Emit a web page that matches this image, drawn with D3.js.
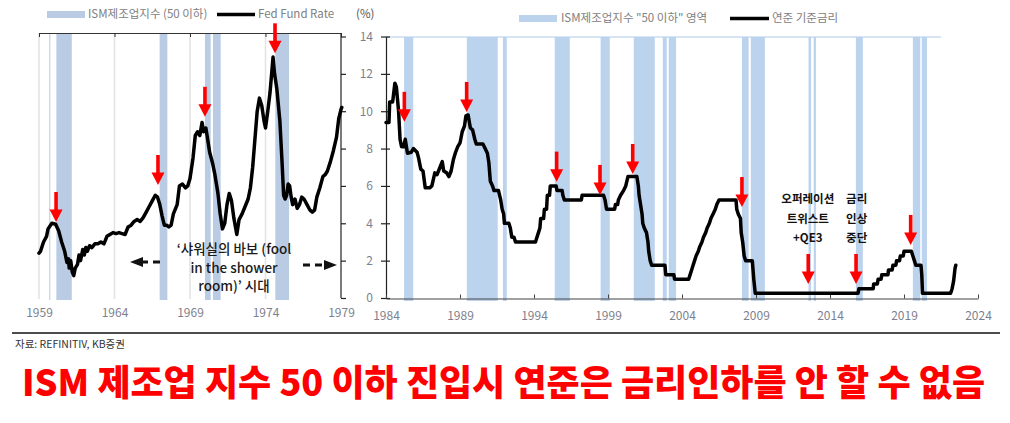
<!DOCTYPE html>
<html><head><meta charset="utf-8">
<script src="https://cdn.jsdelivr.net/npm/d3@7"></script>
<style>body{margin:0;background:#fff}svg{display:block}</style>
</head><body>
<svg id="c" width="1010" height="423"></svg>
<script>
// ---------------- DATA ----------------
const leftYearTicks = [1959, 1964, 1969, 1974, 1979];
const rightYearTicks = [1984, 1989, 1994, 1999, 2004, 2009, 2014, 2019, 2024];
const rateTicks = [0, 2, 4, 6, 8, 10, 12, 14];

// ISM below 50 periods (start, end) in decimal years
const leftShading = [[1959.68,1959.75],[1960.15,1961.17],[1966.99,1967.5],[1969.99,1970.37],[1970.52,1971.03],[1974.65,1975.56]];
const rightShading = [[1985.22,1985.84],[1989.46,1991.55],[1991.9,1992.16],[1995.4,1996.42],[1998.5,1999.12],[2000.74,2002.16],[2002.7,2002.97],[2003.1,2003.6],[2008.05,2008.5],[2008.65,2009.6],[2012.55,2012.72],[2012.9,2013.05],[2015.75,2016.22],[2019.6,2020.1],[2020.2,2020.55]];

// Fed funds rate 1959-1979 [year, %]
const leftRate = [[1959.0,2.4],[1959.1,2.5],[1959.3,3.0],[1959.5,3.3],[1959.6,3.7],[1959.85,4.0],[1960.1,3.95],[1960.3,3.6],[1960.5,3.0],[1960.7,2.5],[1960.85,1.9],[1960.95,2.1],[1961.0,1.6],[1961.1,2.0],[1961.2,1.4],[1961.3,1.2],[1961.4,1.6],[1961.55,1.8],[1961.65,2.3],[1961.75,2.0],[1961.9,2.6],[1962.0,2.3],[1962.1,2.7],[1962.2,2.5],[1962.35,2.8],[1962.5,2.7],[1962.7,2.9],[1962.9,2.9],[1963.1,3.0],[1963.3,2.9],[1963.5,3.3],[1963.7,3.4],[1963.9,3.5],[1964.1,3.45],[1964.3,3.5],[1964.5,3.45],[1964.7,3.4],[1964.9,3.8],[1965.1,3.9],[1965.3,4.1],[1965.5,4.2],[1965.7,4.1],[1965.9,4.3],[1966.1,4.6],[1966.3,4.9],[1966.5,5.2],[1966.7,5.5],[1966.85,5.4],[1967.0,5.0],[1967.15,4.4],[1967.3,3.9],[1967.45,3.9],[1967.6,3.8],[1967.75,3.9],[1967.9,4.5],[1968.0,4.7],[1968.15,5.0],[1968.3,6.0],[1968.5,6.1],[1968.7,5.9],[1968.85,6.0],[1969.0,6.4],[1969.2,7.5],[1969.35,8.7],[1969.5,8.9],[1969.65,8.7],[1969.8,9.4],[1969.9,8.9],[1970.05,9.1],[1970.15,8.6],[1970.3,7.8],[1970.5,7.2],[1970.65,6.6],[1970.85,5.6],[1971.0,4.5],[1971.15,3.7],[1971.3,4.0],[1971.45,5.0],[1971.6,5.6],[1971.75,5.2],[1971.9,4.3],[1972.1,3.4],[1972.25,4.2],[1972.45,4.5],[1972.65,4.9],[1972.85,5.3],[1973.0,5.9],[1973.15,7.0],[1973.3,8.5],[1973.45,10.0],[1973.6,10.7],[1973.75,10.3],[1973.9,9.5],[1974.0,9.1],[1974.15,10.0],[1974.3,11.0],[1974.5,12.9],[1974.6,12.0],[1974.75,11.2],[1974.95,9.5],[1975.1,7.2],[1975.2,5.5],[1975.3,5.3],[1975.4,5.5],[1975.5,6.1],[1975.6,6.0],[1975.7,5.4],[1975.8,5.0],[1975.95,5.3],[1976.1,4.8],[1976.25,5.0],[1976.4,5.4],[1976.55,5.3],[1976.75,5.0],[1976.95,4.7],[1977.1,4.6],[1977.25,4.7],[1977.4,5.4],[1977.6,5.9],[1977.8,6.5],[1977.95,6.6],[1978.1,6.8],[1978.3,7.3],[1978.5,7.9],[1978.7,8.6],[1978.85,9.6],[1979.0,10.1],[1979.05,10.2]];

// Fed funds target rate 1984-2022 [year, %]
const rightRate = [[1984.0,9.4],[1984.2,9.4],[1984.25,10.5],[1984.45,10.5],[1984.6,11.5],[1984.7,11.3],[1984.85,10.0],[1984.95,8.5],[1985.05,8.1],[1985.2,8.1],[1985.3,8.5],[1985.45,7.75],[1985.7,7.8],[1985.85,8.0],[1986.1,7.8],[1986.2,7.5],[1986.35,6.9],[1986.5,6.8],[1986.65,5.9],[1986.95,5.9],[1987.1,6.0],[1987.3,6.7],[1987.45,6.6],[1987.65,7.0],[1987.8,7.3],[1987.9,6.8],[1988.1,6.7],[1988.25,6.5],[1988.4,6.8],[1988.55,7.4],[1988.7,7.8],[1988.85,8.1],[1989.0,8.3],[1989.15,8.9],[1989.3,9.2],[1989.4,9.75],[1989.55,9.8],[1989.7,9.1],[1989.85,9.0],[1990.0,8.5],[1990.1,8.25],[1990.55,8.25],[1990.7,8.0],[1990.85,7.75],[1990.95,7.25],[1991.05,6.25],[1991.2,6.0],[1991.3,5.75],[1991.6,5.75],[1991.75,5.25],[1991.85,4.75],[1991.95,4.5],[1992.0,4.0],[1992.3,4.0],[1992.4,3.75],[1992.5,3.25],[1992.65,3.25],[1992.75,3.0],[1994.1,3.0],[1994.2,3.25],[1994.3,3.5],[1994.4,3.75],[1994.45,4.25],[1994.65,4.25],[1994.7,4.75],[1994.85,4.75],[1994.9,5.5],[1995.05,5.5],[1995.1,6.0],[1995.5,6.0],[1995.55,5.75],[1995.9,5.75],[1995.95,5.5],[1996.05,5.25],[1997.2,5.25],[1997.25,5.5],[1998.7,5.5],[1998.8,5.25],[1998.85,5.0],[1998.9,4.75],[1999.45,4.75],[1999.5,5.0],[1999.65,5.0],[1999.7,5.25],[1999.85,5.5],[2000.05,5.75],[2000.2,6.0],[2000.35,6.5],[2000.95,6.5],[2001.05,6.0],[2001.1,5.5],[2001.2,5.0],[2001.3,4.5],[2001.35,4.0],[2001.45,3.75],[2001.6,3.5],[2001.7,3.0],[2001.75,2.5],[2001.85,2.0],[2001.95,1.75],[2002.85,1.75],[2002.9,1.25],[2003.45,1.25],[2003.5,1.0],[2004.45,1.0],[2004.55,1.25],[2004.65,1.5],[2004.75,1.75],[2004.85,2.0],[2004.95,2.25],[2005.1,2.5],[2005.2,2.75],[2005.35,3.0],[2005.45,3.25],[2005.6,3.5],[2005.7,3.75],[2005.85,4.0],[2005.95,4.25],[2006.1,4.5],[2006.25,4.75],[2006.35,5.0],[2006.5,5.25],[2007.65,5.25],[2007.7,4.75],[2007.8,4.5],[2007.95,4.25],[2008.0,3.5],[2008.1,3.0],[2008.2,2.25],[2008.3,2.0],[2008.75,2.0],[2008.8,1.5],[2008.85,1.0],[2008.95,0.25],[2015.9,0.25],[2015.95,0.5],[2016.92,0.5],[2016.95,0.75],[2017.2,0.75],[2017.25,1.0],[2017.45,1.0],[2017.5,1.25],[2017.92,1.25],[2017.95,1.5],[2018.2,1.5],[2018.25,1.75],[2018.45,1.75],[2018.5,2.0],[2018.7,2.0],[2018.75,2.25],[2018.95,2.25],[2019.0,2.5],[2019.5,2.5],[2019.6,2.25],[2019.7,2.0],[2019.8,1.75],[2020.15,1.75],[2020.2,1.25],[2020.25,0.25],[2022.15,0.25],[2022.25,0.5],[2022.35,0.9],[2022.45,1.6],[2022.5,1.75]];

// red arrows: [year, tip value]
const leftArrows = [[1960.13,4.07],[1966.88,6.05],[1969.99,9.7],[1974.63,13.1]];
const rightArrows = [[1985.24,9.43],[1989.45,9.96],[1995.53,6.23],[1998.46,5.52],[2000.67,6.64],[2008.05,4.87],[2012.53,0.75],[2015.76,0.75],[2019.45,2.84]];

// texts
const leftLegend = ["ISM제조업지수 (50 이하)", "Fed Fund Rate"];
const rightLegend = ["ISM제조업지수 \"50 이하\" 영역", "연준 기준금리"];
const showerNote = ["‘샤워실의 바보 (fool", "in the shower", "room)’ 시대"];
const twistNote = ["오퍼레이션", "트위스트", "+QE3"];
const pauseNote = ["금리", "인상", "중단"];
const sourceText = "자료: REFINITIV, KB증권";
const titleText = "ISM 제조업 지수 50 이하 진입시 연준은 금리인하를 안 할 수 없음";

// ---------------- DRAW ----------------
const FONT = "'Noto Sans CJK KR','Noto Sans',sans-serif";
const LABEL = "#7e7f8e";
const svg = d3.select("#c").style("font-family", FONT);

const y = d3.scaleLinear().domain([0, 14]).range([298, 36.5]);
const xL = d3.scaleLinear().domain([1959, 1979]).range([39, 341]);
const xR = d3.scaleLinear().domain([1984, 2024]).range([386, 978]);

// ----- left chart -----
const gL = svg.append("g");
gL.selectAll("line.grid").data(leftYearTicks.slice(0, 4)).join("line")
  .attr("x1", d => xL(d)).attr("x2", d => xL(d)).attr("y1", 33).attr("y2", 299)
  .attr("stroke", "#e2e2e2").attr("stroke-width", 1.5);
gL.selectAll("rect.sh").data(leftShading).join("rect")
  .attr("x", d => xL(d[0])).attr("width", d => Math.max(1, xL(d[1]) - xL(d[0])))
  .attr("y", 34).attr("height", 266).attr("fill", "#b9cce4");
const topAx = gL.append("g").attr("transform", "translate(0,33)")
  .call(d3.axisBottom(xL).tickValues(leftYearTicks).tickSizeInner(4).tickSizeOuter(0).tickFormat(""));
topAx.select(".domain").attr("stroke", "#333");
topAx.selectAll(".tick line").attr("stroke", "#333");
const botL = gL.append("g").attr("transform", "translate(0,299)")
  .call(d3.axisBottom(xL).tickValues(leftYearTicks).tickSize(0).tickPadding(9).tickFormat(d3.format("d")));
botL.select(".domain").remove();
botL.selectAll("text").attr("fill", LABEL).attr("font-size", 12).attr("font-family", FONT);
const rAx = gL.append("g").attr("transform", "translate(341,0)")
  .call(d3.axisRight(y).tickValues(rateTicks).tickSizeInner(5).tickSizeOuter(0).tickFormat(""));
rAx.select(".domain").attr("stroke", "#222").attr("stroke-width", 1.2).attr("d", "M0,33V298");
rAx.selectAll(".tick line").attr("stroke", "#222").attr("stroke-width", 1.2);

gL.append("path").datum(leftRate)
  .attr("d", d3.line().x(d => xL(d[0])).y(d => y(d[1])))
  .attr("fill", "none").attr("stroke", "#000").attr("stroke-width", 3.5)
  .attr("stroke-linejoin", "round").attr("stroke-linecap", "round");

// ----- right chart -----
const gR = svg.append("g");
gR.append("line").attr("x1", xR(1984)).attr("x2", xR(2021.5)).attr("y1", 37).attr("y2", 37)
  .attr("stroke", "#c9dbf0").attr("stroke-width", 1.5);
gR.selectAll("rect.sh").data(rightShading).join("rect")
  .attr("x", d => xR(d[0])).attr("width", d => xR(d[1]) - xR(d[0]))
  .attr("y", 37).attr("height", 264).attr("fill", "#bcd3ee");

const yAx = gR.append("g").attr("transform", "translate(386,0)")
  .call(d3.axisLeft(y).tickValues(rateTicks).tickSizeInner(5).tickSizeOuter(0).tickPadding(8));
yAx.select(".domain").attr("stroke", "#222").attr("stroke-width", 1.2);
yAx.selectAll(".tick line").attr("stroke", "#222").attr("stroke-width", 1.2).attr("x2", 4).attr("x1", -5);
yAx.selectAll("text").attr("fill", LABEL).attr("font-size", 12).attr("font-family", FONT);

const xAx = gR.append("g").attr("transform", "translate(0,298.5)")
  .call(d3.axisBottom(xR).tickValues(rightYearTicks).tickSizeInner(-4).tickSizeOuter(0).tickPadding(9).tickFormat(d3.format("d")));
xAx.select(".domain").attr("stroke", "#444").attr("stroke-width", 1.2);
xAx.selectAll(".tick line").attr("stroke", "#444");
xAx.selectAll("text").attr("fill", LABEL).attr("font-size", 12).attr("font-family", FONT).attr("dy", "1em");

gR.append("path").datum(rightRate)
  .attr("d", d3.line().x(d => xR(d[0])).y(d => y(d[1])))
  .attr("fill", "none").attr("stroke", "#000").attr("stroke-width", 3.5)
  .attr("stroke-linejoin", "round").attr("stroke-linecap", "round");

// ----- arrows -----
function arrows(g, data, xs) {
  const a = g.selectAll(null).data(data).join("g")
    .attr("transform", d => `translate(${xs(d[0])},${y(d[1])})`);
  a.append("rect").attr("x", -1.8).attr("width", 3.6).attr("y", -30).attr("height", 19).attr("fill", "#ff0000");
  a.append("path").attr("d", "M-6.5,-12.5L6.5,-12.5L0,0Z").attr("fill", "#ff0000");
}
arrows(svg.append("g"), leftArrows, xL);
arrows(svg.append("g"), rightArrows, xR);

// ----- legends -----
svg.append("rect").attr("x", 47).attr("y", 11).attr("width", 38).attr("height", 7).attr("fill", "#b9cce4");
svg.append("text").attr("x", 88).attr("y", 18).text(leftLegend[0]).attr("font-size", 11.5).attr("fill", "#808080");
svg.append("line").attr("x1", 217).attr("x2", 255).attr("y1", 14.5).attr("y2", 14.5).attr("stroke", "#000").attr("stroke-width", 3.5);
svg.append("text").attr("x", 258).attr("y", 18).text(leftLegend[1]).attr("font-size", 11.5).attr("fill", "#808080");
svg.append("text").attr("x", 356).attr("y", 18).text("(%)").attr("font-size", 11.5).attr("fill", "#555");

svg.append("rect").attr("x", 519).attr("y", 15).attr("width", 38).attr("height", 7).attr("fill", "#bcd3ee");
svg.append("text").attr("x", 561).attr("y", 22).text(rightLegend[0]).attr("font-size", 11.5).attr("fill", "#808080");
svg.append("line").attr("x1", 730).attr("x2", 769).attr("y1", 18.5).attr("y2", 18.5).attr("stroke", "#000").attr("stroke-width", 3.5);
svg.append("text").attr("x", 772).attr("y", 22).text(rightLegend[1]).attr("font-size", 11.5).attr("fill", "#808080");

// ----- annotations -----
svg.append("g").selectAll("text").data(showerNote).join("text")
  .attr("x", 234).attr("y", (d, i) => 254 + i * 18.5).attr("text-anchor", "middle")
  .attr("font-size", 13.5).attr("font-weight", 500).attr("fill", "#1a1a1a").text(d => d);
const da = svg.append("g").attr("stroke", "#111").attr("stroke-width", 3).attr("fill", "none");
da.append("line").attr("x1", 141).attr("x2", 164).attr("y1", 262).attr("y2", 262).attr("stroke-dasharray", "7,5");
svg.append("path").attr("d", "M130,262L143,257L143,267Z").attr("fill", "#111");
da.append("line").attr("x1", 303).attr("x2", 326).attr("y1", 265).attr("y2", 265).attr("stroke-dasharray", "7,5");
svg.append("path").attr("d", "M337,265L324,260L324,270Z").attr("fill", "#111");

svg.append("g").selectAll("text").data(twistNote).join("text")
  .attr("x", xR(2012.5)).attr("y", (d, i) => 203 + i * 19.5).attr("text-anchor", "middle")
  .attr("font-size", 11.5).attr("font-weight", 700).attr("fill", "#111").text(d => d);
svg.append("g").selectAll("text").data(pauseNote).join("text")
  .attr("x", xR(2015.8)).attr("y", (d, i) => 203 + i * 19.5).attr("text-anchor", "middle")
  .attr("font-size", 11.5).attr("font-weight", 700).attr("fill", "#111").text(d => d);

// ----- footer -----
svg.append("line").attr("x1", 12).attr("x2", 1000).attr("y1", 333).attr("y2", 333).attr("stroke", "#111").attr("stroke-width", 1.5);
svg.append("text").attr("x", 15).attr("y", 348).text(sourceText).attr("font-size", 10.5).attr("fill", "#333");
svg.append("text").attr("transform", "translate(22,396) scale(1,1.1)").text(titleText)
  .attr("font-size", 33).attr("font-weight", 900).attr("fill", "#ff0000")
  .attr("textLength", 963).attr("lengthAdjust", "spacingAndGlyphs");
</script>
</body></html>
